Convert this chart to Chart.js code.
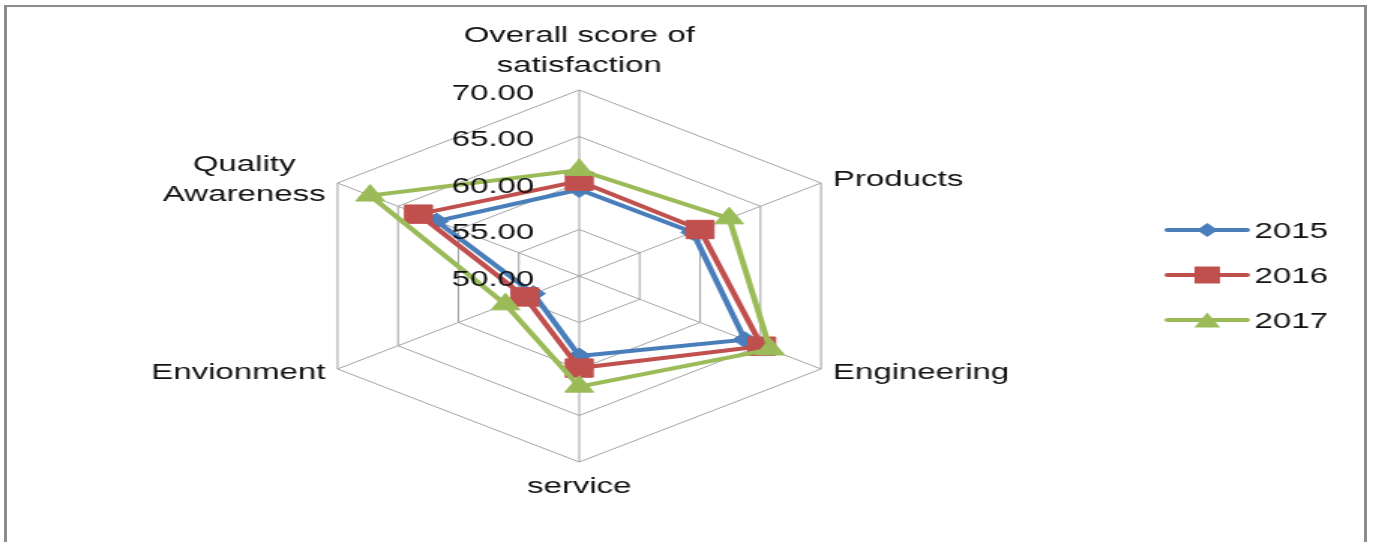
<!DOCTYPE html>
<html>
<head>
<meta charset="utf-8">
<title>Satisfaction scores 2015-2017</title>
<script src="https://cdn.jsdelivr.net/npm/chart.js@4/dist/chart.umd.min.js"></script>
<style>
  html, body { margin: 0; padding: 0; background: #fff; width: 1373px; height: 542px; overflow: hidden; }
  /* the chart is drawn on a narrower canvas and widened, giving the flattened hexagon */
  #wrap { position: absolute; left: 0; top: 0; width: 915px; height: 542px;
          transform: scaleX(1.5006); transform-origin: 0 0; }
  #frame { position: absolute; left: 4px; top: 5px; width: 1357px; height: 600px;
           border-left: 3px solid #8c8c8c; border-right: 3px solid #8c8c8c; border-top: 2px solid #8c8c8c;
           pointer-events: none; }
</style>
</head>
<body>
<div id="wrap"><canvas id="radar"></canvas></div>
<div id="frame"></div>
<script>
// Axis categories (multi-line where the name wraps)
const categories = [
  ['Overall score of', 'satisfaction'],
  'Products',
  'Engineering',
  'service',
  'Envionment',
  ['Quality', 'Awareness']
];
const years = ['2015', '2016', '2017'];

// Scores per year, one value per category
const scores2015 = [59.3, 59.4, 63.7, 58.6, 53.8, 61.8];
const scores2016 = [60.2, 60.0, 65.1, 59.9, 54.5, 63.3];
const scores2017 = [61.4, 62.4, 65.8, 61.9, 56.1, 67.3];

// Radial scale
const scaleMin = 50;
const scaleMax = 70;
const scaleStep = 5;

const FONT = '22px "Liberation Sans", Arial, sans-serif';
const TEXT = '#111111';
const GRID = '#a3a3a3';

const seriesStyle = [
  { color: '#4a7ebb', pointStyle: 'rectRot',  radius: 8,  legendRadius: 7 },
  { color: '#c0504d', pointStyle: 'rect',     radius: 13, legendRadius: 12 },
  { color: '#9bbb59', pointStyle: 'triangle', radius: 11, legendRadius: 10 }
];
const seriesValues = [scores2015, scores2016, scores2017];

const datasets = years.map((y, i) => ({
  label: y,
  data: seriesValues[i],
  borderColor: seriesStyle[i].color,
  backgroundColor: seriesStyle[i].color,
  pointBackgroundColor: seriesStyle[i].color,
  pointBorderColor: seriesStyle[i].color,
  pointBorderWidth: 1,
  pointStyle: seriesStyle[i].pointStyle,
  pointRadius: seriesStyle[i].radius,
  pointHoverRadius: seriesStyle[i].radius,
  borderWidth: 4,
  fill: false,
  tension: 0,
  order: years.length - 1 - i   // later years drawn on top
}));

// Fallback marker painter, used only if Chart.helpers is not exposed
function paintMarker(ctx, style, r, x, y) {
  if (Chart.helpers && Chart.helpers.drawPoint) {
    Chart.helpers.drawPoint(ctx, { pointStyle: style, rotation: 0, radius: r, borderWidth: 0 }, x, y);
    return;
  }
  ctx.beginPath();
  if (style === 'rect') {
    const s = r * Math.SQRT1_2;
    ctx.rect(x - s, y - s, 2 * s, 2 * s);
  } else if (style === 'rectRot') {
    ctx.moveTo(x - r, y); ctx.lineTo(x, y - r); ctx.lineTo(x + r, y); ctx.lineTo(x, y + r);
  } else {
    ctx.moveTo(x, y - r);
    ctx.lineTo(x + Math.sin(2 * Math.PI / 3) * r, y - Math.cos(2 * Math.PI / 3) * r);
    ctx.lineTo(x + Math.sin(4 * Math.PI / 3) * r, y - Math.cos(4 * Math.PI / 3) * r);
  }
  ctx.closePath();
  ctx.fill();
}

// Value labels to the left of the first spoke, and category names around the outer ring
const axisText = {
  id: 'axisText',
  afterDatasetsDraw(chart) {
    const r = chart.scales.r;
    const ctx = chart.ctx;
    ctx.save();
    ctx.font = FONT;
    ctx.fillStyle = TEXT;
    ctx.textBaseline = 'alphabetic';

    ctx.textAlign = 'right';
    r.ticks.forEach(t => {
      const y = r.yCenter - r.getDistanceFromCenterForValue(t.value);
      ctx.fillText(t.value.toFixed(2), r.xCenter - 30, y + 9.5);
    });

    const CAP = 7.9, LH = 30, GAP = 8;
    ctx.textAlign = 'center';
    chart.data.labels.forEach((lab, i) => {
      const lines = Array.isArray(lab) ? lab : [lab];
      const n = lines.length;
      const p = r.getPointPosition(i, r.drawingArea);
      const deg = Math.round(r.getIndexAngle(i) * 180 / Math.PI) % 360;
      if (deg === 0) {
        lines.forEach((t, k) => ctx.fillText(t, p.x, p.y - 18 - (n - 1 - k) * LH));
      } else if (deg === 180) {
        lines.forEach((t, k) => ctx.fillText(t, p.x, p.y + 31 + k * LH));
      } else {
        const upper = deg < 90 || deg > 270;
        const capCenter = p.y + (upper ? -5 : 2);
        const w = Math.max(...lines.map(t => ctx.measureText(t).width));
        const cx = deg < 180 ? p.x + GAP + w / 2 : p.x - GAP - w / 2;
        lines.forEach((t, k) => ctx.fillText(t, cx, capCenter - (n - 1) * LH / 2 + k * LH + CAP));
      }
    });
    ctx.restore();
  }
};

// Legend at the right: line with the series marker, then the year
const sideLegend = {
  id: 'sideLegend',
  afterDraw(chart) {
    const ctx = chart.ctx;
    const r = chart.scales.r;
    const dsList = chart.data.datasets;
    const x0 = chart.chartArea.right + 205;
    const x1 = x0 + 53;
    const xm = (x0 + x1) / 2;
    dsList.forEach((ds, i) => {
      const y = r.yCenter - 1 + (i - (dsList.length - 1) / 2) * 45;
      const st = seriesStyle[i];
      ctx.save();
      ctx.strokeStyle = ds.borderColor;
      ctx.lineWidth = 4;
      ctx.lineCap = 'round';
      ctx.beginPath();
      ctx.moveTo(x0, y);
      ctx.lineTo(x1, y);
      ctx.stroke();
      ctx.fillStyle = ds.pointBackgroundColor;
      ctx.strokeStyle = ds.pointBackgroundColor;
      const my = st.pointStyle === 'triangle' ? y + st.legendRadius / 4 : y;
      paintMarker(ctx, st.pointStyle, st.legendRadius, xm, my);
      ctx.fillStyle = TEXT;
      ctx.font = FONT;
      ctx.textAlign = 'left';
      ctx.textBaseline = 'alphabetic';
      ctx.fillText(ds.label, x1 + 5, y + 8);
      ctx.restore();
    });
  }
};

new Chart(document.getElementById('radar'), {
  type: 'radar',
  data: { labels: categories, datasets },
  options: {
    responsive: true,
    maintainAspectRatio: false,
    animation: false,
    layout: { padding: { left: 200, right: 342, top: 90, bottom: 80 } },
    plugins: {
      legend: { display: false },
      tooltip: { enabled: false }
    },
    elements: { line: { tension: 0 } },
    scales: {
      r: {
        min: scaleMin,
        max: scaleMax,
        ticks: { stepSize: scaleStep, display: false },
        pointLabels: { display: false },
        grid: { color: GRID, lineWidth: 1 },
        angleLines: { color: GRID, lineWidth: 1 }
      }
    }
  },
  plugins: [axisText, sideLegend]
});
</script>
</body>
</html>
